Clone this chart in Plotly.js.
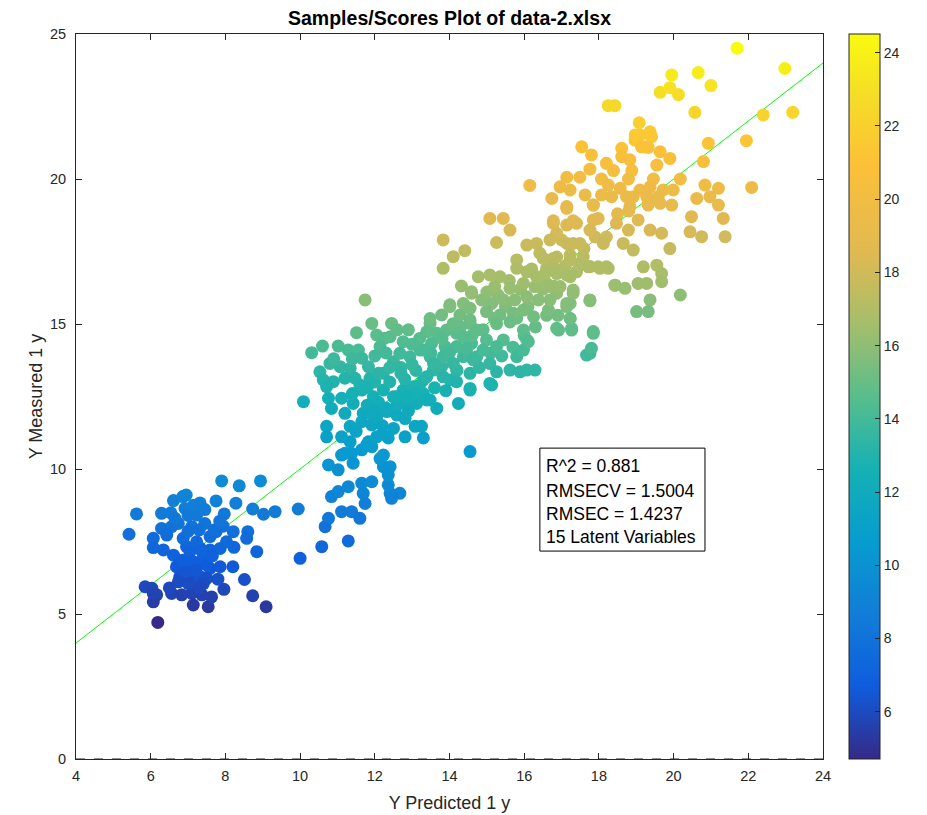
<!DOCTYPE html>
<html>
<head>
<meta charset="utf-8">
<script src="https://cdn.plot.ly/plotly-3.0.1.min.js"></script>
<style>html,body{margin:0;padding:0;background:#fff;}#chart{width:927px;height:815px;}</style>
</head>
<body>
<div id="chart"></div>
<script>
// ---- Data (Y Predicted vs Y Measured) ----
const lowPredX = [7.90,8.37,8.94,6.61,6.86,7.32,7.75,8.28,8.73,9.02,
  9.33,9.95,5.62,5.42,6.29,6.54,6.92,7.97,8.60,8.21,
  8.57,7.94,7.75,6.07,6.29,6.56,6.07,6.34,6.61,6.96,
  7.32,7.59,7.86,8.23,8.84,10.00,6.69,6.96,7.23,7.59,
  7.86,8.20,8.51,6.78,7.14,7.50,5.85,6.03,6.16,6.07,
  6.56,6.83,7.10,7.37,7.14,7.54,7.96,8.73,9.09,6.19,
  7.00,7.23,6.74,7.10,7.45,6.43,6.87,7.23,7.59,8.03,
  7.05,7.41,7.14,7.50,6.92,7.32,6.74,7.01,7.41,6.07,
  7.63,7.15,7.30,7.00,7.35,7.65,6.85,7.70,7.20,7.80,
  6.50,7.30,6.65,7.45,7.85,6.95];
const lowMeasY = [9.59,9.42,9.59,8.91,9.05,8.83,8.90,8.82,8.62,8.44,
  8.53,8.62,8.45,7.75,8.47,8.49,8.64,8.45,7.84,7.84,
  7.61,8.03,7.84,7.61,7.95,8.01,7.29,7.21,7.03,7.32,
  7.28,7.21,7.26,7.30,7.15,6.92,6.63,6.52,6.63,6.57,
  6.63,6.63,6.19,6.29,6.17,6.23,5.94,5.89,5.66,5.42,
  5.71,5.66,5.71,5.66,5.31,5.25,5.85,5.63,5.25,4.71,
  8.40,8.41,8.12,8.01,8.12,7.72,7.61,7.49,7.67,7.49,
  7.15,6.98,6.80,6.69,6.40,6.29,6.11,6.05,6.05,5.71,
  5.59,8.75,7.90,7.85,7.20,7.00,6.85,7.90,6.50,6.20,
  5.90,5.90,8.30,8.60,8.20,9.10];

const midLowPredX = [10.58,11.29,10.67,10.76,11.11,11.38,11.60,10.84,11.02,11.29,
  11.65,11.92,11.69,11.74,12.41,12.67,12.45,12.36,12.23,12.41,
  12.14,12.36,10.76,11.02,11.11,11.38,11.42,11.65,11.92,11.83,
  11.34,11.20,12.23,14.55];
const midLowMeasY = [7.32,7.52,8.01,8.30,8.53,8.53,8.30,9.05,9.22,9.39,
  9.51,9.56,9.16,8.81,9.16,9.16,8.99,9.45,10.08,10.08,
  10.36,9.79,10.14,9.97,10.48,10.54,10.20,10.66,10.77,10.94,
  10.94,10.54,10.48,10.60];

const midPredX = [11.74,11.92,12.45,11.51,10.31,10.60,11.02,11.29,11.56,12.05,
  12.27,12.41,12.76,12.14,10.80,10.53,11.07,11.34,11.65,11.83,
  10.62,10.89,11.20,11.47,11.87,12.23,12.50,12.67,12.94,13.21,
  10.09,10.71,10.76,11.11,10.84,11.20,11.42,11.65,11.96,12.23,
  12.50,12.76,13.03,13.30,13.57,13.66,13.48,13.12,12.85,10.71,
  10.71,11.11,11.34,11.65,11.92,11.69,12.05,12.32,12.59,12.81,
  13.08,13.25,13.30,12.81,12.36,12.05,11.78,14.24,14.55,14.01,
  13.79,14.19,14.55,13.48,13.79,14.01,14.37,14.59,13.39,13.66,
  13.92,14.19,14.55,13.52,13.88,14.19,14.59,13.48,13.83,14.37,
  14.73,
  10.90,11.40,12.00,12.30,11.60,12.00,12.40,12.80,13.10,12.70,
  12.10,11.40,11.80,12.60,13.30,12.20,12.50,12.90,11.50,13.00,
  13.20,12.90,12.60];
const midMeasY = [15.83,15.02,15.02,14.70,14.01,14.24,14.24,14.10,14.10,14.62,
  14.51,14.56,14.39,14.22,13.64,13.35,13.53,13.47,13.82,13.53,
  13.07,13.01,13.13,13.13,13.13,13.30,13.70,13.99,13.87,14.10,
  12.32,12.84,12.44,12.44,12.09,11.92,12.26,12.72,12.49,12.72,
  12.49,12.72,12.84,13.07,13.41,12.09,12.38,12.26,12.26,11.47,
  11.11,11.11,11.47,11.63,11.52,11.92,11.80,11.98,11.86,11.74,
  11.47,11.47,11.07,11.11,11.07,11.11,10.83,12.26,12.72,13.07,
  13.53,13.41,13.30,15.02,15.31,15.66,15.71,16.06,14.73,14.68,
  14.79,14.68,15.02,14.33,14.22,14.22,14.33,13.87,13.87,13.87,
  13.87,
  13.80,13.80,13.90,14.00,12.90,13.00,13.00,13.10,13.40,13.50,
  12.30,12.60,12.20,12.20,12.60,11.50,11.40,12.00,11.30,13.60,
  14.50,14.80,14.80];

const bandPredX = [12.0,12.3,12.6,12.9,13.2,11.8,12.1,12.4,12.7,13.0,
  13.5,13.8,14.0,14.3,14.6,14.9,15.2,15.5,15.8,16.1,
  14.2,14.5,14.8,15.1,15.4,15.7,16.0,16.3,16.6,16.9,
  15.0,15.3,15.6,15.9,16.2,16.5,16.8,17.1,17.4,17.0,
  17.6,17.9,18.2,18.5,18.8,13.9,13.6,13.1,12.2,11.9];
const bandMeasY = [12.0,12.1,12.5,12.5,12.9,12.8,13.3,13.5,13.3,14.3,
  14.0,14.5,14.0,14.9,14.6,14.8,15.2,15.6,15.2,15.6,
  13.4,13.9,13.5,14.0,13.9,14.2,14.6,14.9,15.3,15.3,
  16.1,16.0,16.5,16.2,16.9,16.2,16.3,17.0,16.8,17.9,
  17.6,18.0,18.0,18.8,18.9,12.7,12.8,12.6,11.2,11.9];

const upperPredX = [15.08,15.44,15.62,13.83,15.26,14.41,14.10,13.83,15.80,16.07,
  16.33,16.42,16.78,17.14,17.40,17.85,17.14,17.85,16.87,17.14,
  17.49,16.78,17.23,17.49,17.76,18.03,18.25,18.43,17.76,17.14,
  17.31,17.23,16.87,16.60,16.29,15.98,15.62,15.35,15.08,14.77,
  14.32,14.59,15.21,15.80,16.07,16.33,16.60,16.78,14.01,14.55,
  14.86,15.13,15.44,15.75,16.07,16.38,16.65,17.14,16.87,17.23,
  17.27,17.85,17.76,17.67,13.48,14.28,14.55,14.99,15.35,15.71,
  15.98,16.25,14.10,14.73,15.26,15.62,15.98,16.07,14.37,14.99,
  15.44,13.34,14.46,14.90,15.26,15.80,15.98,13.57,14.10,14.64,
  15.08,15.26,15.62,15.89,16.07,16.29,13.39,13.83,14.19,14.55,
  15.08,13.39,16.11,15.13];
const upperMeasY = [18.64,18.64,18.24,17.90,17.81,17.53,17.32,16.92,17.21,17.72,
  17.78,17.44,18.47,18.41,18.47,18.59,19.05,19.10,18.13,17.78,
  17.78,17.26,17.38,17.09,16.98,16.92,16.92,16.34,15.83,16.69,
  16.17,15.71,16.06,16.40,16.29,16.40,16.23,16.63,16.69,16.63,
  16.31,16.11,16.29,16.92,16.80,16.63,16.92,16.97,15.60,15.54,
  15.83,15.71,15.83,15.83,15.94,15.83,15.48,15.60,14.85,15.19,
  14.85,14.68,13.99,13.93,15.19,15.31,15.14,15.43,15.31,15.37,
  15.48,15.25,15.01,14.79,15.01,15.07,14.79,14.45,14.56,14.45,
  14.45,14.10,14.16,14.10,14.22,13.87,14.10,13.64,13.64,13.76,
  13.64,13.35,13.41,13.35,13.41,13.41,13.18,13.18,13.01,12.78,
  12.95,12.38,14.39,12.90];

const highPredX = [19.10,19.37,18.97,19.23,20.93,20.80,17.54,17.80,18.61,18.61,
  18.83,19.64,19.90,19.55,18.20,17.76,18.39,18.88,17.14,17.49,
  18.07,18.79,19.46,20.18,16.96,17.23,18.25,18.57,19.10,19.37,
  19.72,19.99,20.84,21.20,16.74,17.63,18.07,18.34,18.74,19.28,
  19.59,20.62,20.97,17.14,17.85,18.83,19.32,19.95,21.20,20.48,
  21.33,16.78,17.31,17.98,18.47,19.05,17.76,18.79,19.37,19.68,
  20.44,20.75,21.38,16.69,17.31,18.12,18.65,18.92,19.90,16.51,
  16.87,17.23,17.58,17.49,17.72,17.98,18.20,19.19,19.55,19.68,
  19.68,18.43,18.70,19.05,19.28,20.18,16.56,16.87,17.23,16.69,
  16.96,17.31,16.69,17.14,17.76,19.37,19.01,19.32,17.23,16.92,
  17.27,17.85,17.80,16.15];
const highMeasY = [21.52,21.52,21.34,21.11,21.23,20.60,21.11,20.83,21.06,20.77,
  20.66,20.94,20.71,20.48,20.54,20.34,20.29,20.29,20.06,20.06,
  20.00,20.00,20.00,20.00,19.73,19.62,19.79,19.68,19.62,19.73,
  19.62,19.62,19.79,19.68,19.33,19.45,19.45,19.39,19.39,19.39,
  19.39,19.33,19.39,18.99,19.10,19.05,19.10,19.10,19.10,18.70,
  18.64,18.56,18.56,18.64,18.47,18.59,18.24,18.24,18.24,18.13,
  18.18,18.01,18.01,17.90,17.78,17.78,17.78,17.55,17.60,17.26,
  17.31,17.21,17.31,17.03,16.97,16.97,16.97,16.97,17.03,16.74,
  16.46,16.34,16.23,16.40,16.40,16.00,16.74,16.74,16.63,16.29,
  16.29,16.06,15.83,15.71,15.80,15.83,15.43,15.43,15.19,14.79,
  14.79,14.74,14.16,19.78];

const topPredX = [21.70,22.98,19.95,20.66,19.64,19.90,20.13,21.00,18.25,18.43,
  20.57,22.40,23.19,19.08,19.37,19.41,19.14,21.95,22.09,18.92,
  19.32,19.64,18.97,19.32];
const topMeasY = [24.51,23.81,23.59,23.67,22.99,23.15,22.91,23.22,22.53,22.53,
  22.30,22.21,22.30,21.94,21.63,21.46,21.11,21.32,19.71,19.39,
  19.16,19.16,21.52,21.09];

// reference lines
const fitX = [4, 24];
const fitY = [4, 24];
const zeroX = [4, 24];
const zeroY = [0, 0];

// ticks & labels
const xTicks = [4,6,8,10,12,14,16,18,20,22,24];
const yTicks = [0,5,10,15,20,25];
const cbTicks = [6,8,10,12,14,16,18,20,22,24];
const statsLines = ['R^2 = 0.881', 'RMSECV = 1.5004', 'RMSEC = 1.4237', '15 Latent Variables'];
const statsLineY = [10.10, 9.24, 8.45, 7.66];
const statsBox = {x0: 16.42, x1: 20.84, y0: 7.17, y1: 10.72};
const chartTitle = 'Samples/Scores Plot of data-2.xlsx';
const xLabel = 'Y Predicted 1 y';
const yLabel = 'Y Measured 1 y';

const predX = [].concat(lowPredX, midLowPredX, midPredX, bandPredX, upperPredX, highPredX, topPredX);
const measY = [].concat(lowMeasY, midLowMeasY, midMeasY, bandMeasY, upperMeasY, highMeasY, topMeasY);

const parula = [
  [0.00, 'rgb(53,42,135)'],
  [0.10, 'rgb(15,92,221)'],
  [0.20, 'rgb(18,125,216)'],
  [0.30, 'rgb(7,156,207)'],
  [0.40, 'rgb(21,177,180)'],
  [0.50, 'rgb(89,189,140)'],
  [0.60, 'rgb(165,190,107)'],
  [0.70, 'rgb(225,185,82)'],
  [0.82, 'rgb(252,192,56)'],
  [0.92, 'rgb(245,222,38)'],
  [1.00, 'rgb(249,251,14)']
];

const axisCol = '#262626';
const plotL = 76, plotR = 823;

const traces = [
  {x: zeroX, y: zeroY, type: 'scatter', mode: 'lines', line: {color: '#222', width: 1, dash: 'dash'}, hoverinfo: 'skip', showlegend: false, cliponaxis: false},
  {x: fitX, y: fitY, type: 'scatter', mode: 'lines', line: {color: 'rgb(0,255,0)', width: 1}, hoverinfo: 'skip', showlegend: false},
  {x: predX, y: measY, type: 'scatter', mode: 'markers', showlegend: false,
    marker: {size: 13, color: measY, colorscale: parula, line: {width: 0},
      showscale: true,
      colorbar: {thickness: 31, thicknessmode: 'pixels', len: 1, lenmode: 'fraction',
        x: (849 - plotL) / (plotR - plotL), xanchor: 'left', y: 0.5, yanchor: 'middle',
        xpad: 0, ypad: 0, outlinewidth: 1, outlinecolor: axisCol,
        ticks: 'inside', ticklen: 5, tickcolor: axisCol, tickvals: cbTicks,
        tickprefix: '\u00a0',
        tickfont: {size: 14, color: axisCol}}}}
];

const layout = {
  width: 927, height: 815,
  margin: {l: 76, r: 104, t: 34, b: 56, pad: 0},
  paper_bgcolor: '#fff', plot_bgcolor: '#fff',
  font: {family: '"Liberation Sans", Arial, Helvetica, sans-serif', size: 14, color: axisCol},
  title: {text: '<b>' + chartTitle + '</b>', x: 0.5, xref: 'paper', y: 1 - 18/815, yref: 'container', yanchor: 'middle',
    font: {size: 19.5, color: '#000'}},
  xaxis: {range: [4, 24], tickvals: xTicks, ticks: 'inside', ticklen: 6, tickcolor: axisCol,
    showline: true, linecolor: axisCol, linewidth: 1, mirror: 'ticks', showgrid: false, zeroline: false,
    tickfont: {size: 14.5, color: axisCol}, ticklabelstandoff: 4,
    title: {text: xLabel, font: {size: 18, color: axisCol}, standoff: 12}},
  yaxis: {range: [0, 25], tickvals: yTicks, ticks: 'inside', ticklen: 6, tickcolor: axisCol,
    showline: true, linecolor: axisCol, linewidth: 1, mirror: 'ticks', showgrid: false, zeroline: false,
    tickfont: {size: 14.5, color: axisCol}, ticklabelstandoff: 6,
    title: {text: yLabel, font: {size: 18, color: axisCol}, standoff: 2}},
  shapes: [{type: 'rect', xref: 'x', yref: 'y', x0: statsBox.x0, x1: statsBox.x1, y0: statsBox.y0, y1: statsBox.y1,
    line: {color: '#000', width: 1}, fillcolor: '#fff', layer: 'above'}],
  annotations: statsLines.map((t, i) => ({x: statsBox.x0 + 0.1, y: statsLineY[i], xref: 'x', yref: 'y',
    text: t, showarrow: false, xanchor: 'left', yanchor: 'middle', font: {size: 17.5, color: '#000'}}))
};

Plotly.newPlot('chart', traces, layout, {displayModeBar: false, staticPlot: true});
</script>
</body>
</html>
